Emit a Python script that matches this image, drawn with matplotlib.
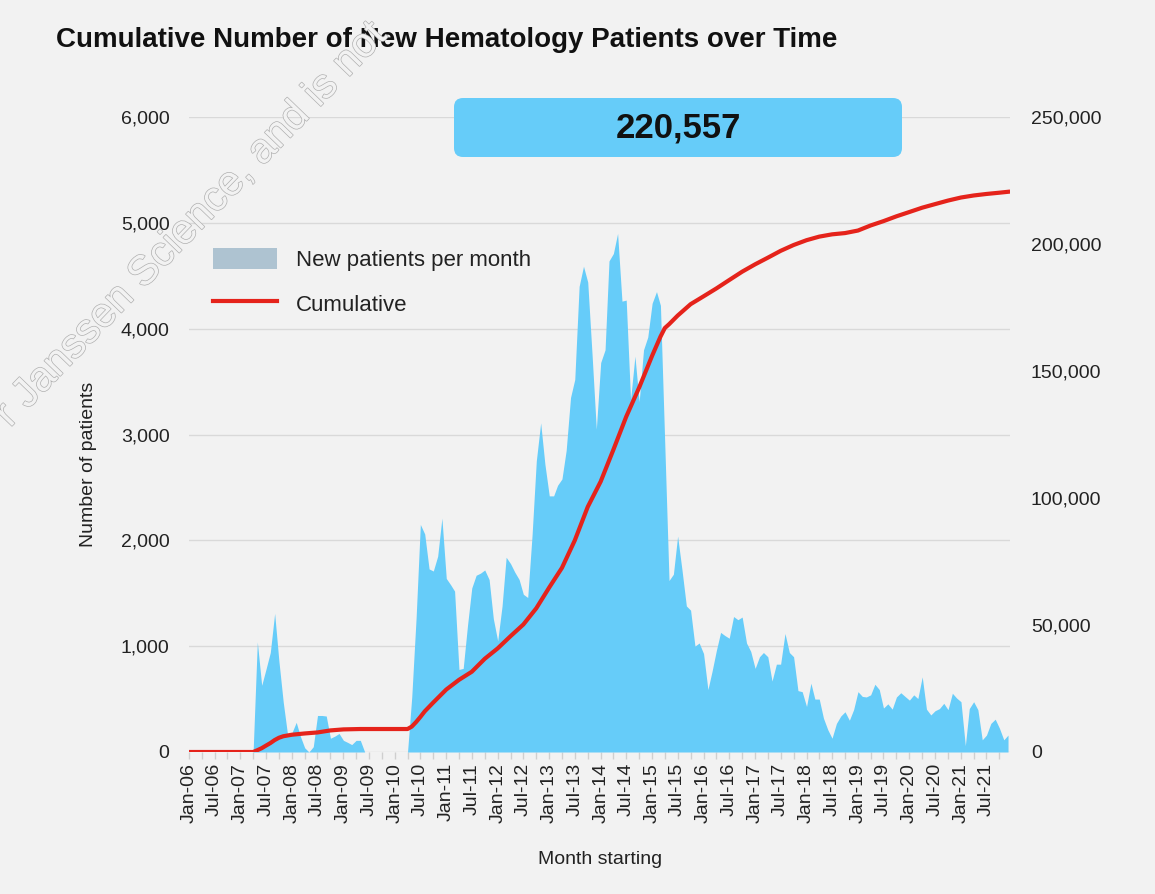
import matplotlib
matplotlib.use('Agg')
import matplotlib.pyplot as plt
import matplotlib.dates as mdates
import matplotlib.patheffects as pe
import matplotlib.transforms as mtransforms
from matplotlib.patches import Patch, FancyBboxPatch
from matplotlib.lines import Line2D
from matplotlib.ticker import FuncFormatter, MultipleLocator
import pandas as pd

# ---------------- data ----------------
months = pd.date_range('2006-01-01', '2021-12-01', freq='MS')

new_2006 = [0, 0, 0, 0, 0, 0, 0, 0, 0, 0, 0, 0]
new_2007 = [0, 0, 0, 0, 1040, 630, 780, 940, 1310, 860, 470, 170]
new_2008 = [180, 280, 150, 40, 0, 50, 345, 345, 340, 130, 150, 175]
new_2009 = [110, 90, 70, 110, 110, 0, 0, 0, 0, 0, 0, 0]
new_2010 = [0, 0, 0, 0, 520, 1270, 2150, 2060, 1730, 1710, 1850, 2210]
new_2011 = [1640, 1580, 1520, 780, 790, 1200, 1550, 1670, 1690, 1720, 1630, 1260]
new_2012 = [1050, 1380, 1840, 1780, 1700, 1630, 1490, 1460, 2050, 2750, 3110, 2720]
new_2013 = [2420, 2420, 2520, 2580, 2850, 3350, 3520, 4400, 4590, 4440, 3750, 3050]
new_2014 = [3680, 3800, 4640, 4710, 4900, 4260, 4270, 3330, 3740, 3310, 3800, 3920]
new_2015 = [4240, 4350, 4220, 2900, 1620, 1680, 2040, 1720, 1380, 1340, 1000, 1030]
new_2016 = [930, 590, 760, 960, 1130, 1100, 1075, 1280, 1250, 1275, 1030, 950]
new_2017 = [790, 900, 940, 900, 670, 830, 830, 1120, 940, 900, 580, 570]
new_2018 = [430, 650, 500, 500, 320, 210, 130, 270, 340, 380, 300, 400]
new_2019 = [570, 525, 520, 540, 640, 590, 415, 455, 405, 520, 560, 525]
new_2020 = [490, 540, 505, 710, 405, 350, 390, 410, 460, 400, 555, 510]
new_2021 = [475, 60, 410, 475, 400, 115, 160, 270, 310, 225, 115, 160]

new_patients = (new_2006 + new_2007 + new_2008 + new_2009 + new_2010 + new_2011 +
                new_2012 + new_2013 + new_2014 + new_2015 + new_2016 + new_2017 +
                new_2018 + new_2019 + new_2020 + new_2021)

cum_dates = ['2006-01', '2007-04', '2007-05', '2007-06', '2007-07', '2007-08', '2007-09',
             '2007-10', '2007-11', '2008-01', '2008-04', '2008-07', '2008-10', '2009-01',
             '2009-05', '2010-04', '2010-05', '2010-06', '2010-07', '2010-08', '2010-10',
             '2011-01', '2011-04', '2011-07', '2011-10', '2012-01', '2012-04', '2012-07',
             '2012-10', '2013-01', '2013-04', '2013-07', '2013-10', '2014-01', '2014-04',
             '2014-07', '2014-10', '2015-01', '2015-03', '2015-04', '2015-05', '2015-07',
             '2015-10', '2016-01', '2016-04', '2016-07', '2016-10', '2017-01', '2017-04',
             '2017-07', '2017-10', '2018-01', '2018-04', '2018-07', '2018-10', '2019-01',
             '2019-04', '2019-07', '2019-10', '2020-01', '2020-04', '2020-07', '2020-10',
             '2021-01', '2021-04', '2021-07', '2021-10', '2021-12']
cum_values = [0, 0, 700, 1500, 2500, 3500, 4700,
              5600, 6200, 6800, 7300, 7700, 8500, 8900,
              9050, 9050, 10000, 11800, 13800, 16000, 19500,
              24600, 28400, 31600, 36700, 40800, 45600, 50200,
              56600, 64800, 72500, 83300, 96500, 106500, 119000,
              132000, 143500, 156000, 163500, 166900, 168400, 171800,
              176300, 179400, 182500, 185800, 189100, 192000, 194600,
              197300, 199600, 201500, 202900, 203800, 204300, 205300,
              207300, 209000, 210900, 212600, 214300, 215700, 217100,
              218300, 219100, 219700, 220200, 220557]

total_label = '220,557'
title = 'Cumulative Number of New Hematology Patients over Time'
legend_labels = ['New patients per month', 'Cumulative']

# ---------------- style ----------------
W, H = 1155, 894
BG = '#F2F2F2'
FILL = '#66CCF9'
RED = '#E5231B'
LEG_PATCH = '#AEC3D1'
FONT = 'Liberation Sans'
plt.rcParams['font.family'] = [FONT, 'DejaVu Sans']

fig = plt.figure(figsize=(W / 100, H / 100), dpi=100, facecolor=BG)

def fx(px):
    return px / W

def fy(py):
    return 1 - py / H

left, right, top, bottom = 189, 1010, 117, 752
ax = fig.add_axes([fx(left), fy(bottom), fx(right - left), (bottom - top) / H])
ax.set_facecolor(BG)
ax2 = ax.twinx()

cum_dt = pd.to_datetime(cum_dates)

ax.fill_between(months, new_patients, 0, color=FILL, lw=0, zorder=2)
ax2.plot(cum_dt, cum_values, color=RED, lw=3.0, solid_joinstyle='round', zorder=3)

ax.set_ylim(0, 6000)
ax2.set_ylim(0, 250000)
ax.set_xlim(pd.Timestamp('2006-01-01'), pd.Timestamp('2021-12-15'))

ax.yaxis.set_major_locator(MultipleLocator(1000))
ax2.yaxis.set_major_locator(MultipleLocator(50000))
fmt = FuncFormatter(lambda v, p: f'{int(v):,}')
ax.yaxis.set_major_formatter(fmt)
ax2.yaxis.set_major_formatter(fmt)

ax.grid(axis='y', color='#D9D9D9', lw=1.0, zorder=0)
ax.set_axisbelow(True)

ax.xaxis.set_major_locator(mdates.MonthLocator(bymonth=[1, 7]))
ax.xaxis.set_major_formatter(mdates.DateFormatter('%b-%y'))
ax.xaxis.set_minor_locator(mdates.MonthLocator(bymonth=[4, 10]))

for a in (ax, ax2):
    for s in a.spines.values():
        s.set_visible(False)

ax.tick_params(axis='y', length=0, pad=14, labelsize=14, labelcolor='#222222')
ax2.tick_params(axis='y', length=0, pad=15, labelsize=14, labelcolor='#222222')
ax.tick_params(axis='x', which='major', length=5, width=1, color='#CFCFCF',
               pad=3, labelsize=14, labelcolor='#222222', labelrotation=90)
ax.tick_params(axis='x', which='minor', length=5, width=1, color='#CFCFCF')

# axis titles
fig.text(fx(88), fy(464), 'Number of patients', rotation=90, ha='center', va='center',
         fontsize=14, color='#222222')
fig.text(fx(600), fy(860), 'Month starting', ha='center', va='center',
         fontsize=14, color='#222222')

# title
fig.text(fx(56), fy(40), title, ha='left', va='center', fontsize=20,
         fontweight='bold', color='#111111')

# total box
box = FancyBboxPatch((454, H - 157), 448, 59,
                     boxstyle='round,pad=0,rounding_size=9',
                     transform=mtransforms.IdentityTransform(),
                     facecolor=FILL, edgecolor='none', zorder=5)
fig.add_artist(box)
fig.text(fx(678), fy(128), total_label, ha='center', va='center', fontsize=25,
         fontweight='bold', color='#111111', zorder=6)

# legend
handles = [Patch(facecolor=LEG_PATCH, edgecolor='none'),
           Line2D([0], [0], color=RED, lw=3.0)]
leg = ax.legend(handles, legend_labels, loc='upper left',
                bbox_to_anchor=(fx(213), fy(248)), bbox_transform=fig.transFigure,
                frameon=False, fontsize=16, handlelength=2.9, handleheight=1.1,
                handletextpad=0.85, labelspacing=0.95, borderpad=0, borderaxespad=0)
for t in leg.get_texts():
    t.set_color('#222222')

# watermark
fig.text(fx(10), fy(428), 'r Janssen Science, and is not', rotation=46,
         rotation_mode='anchor', ha='left', va='baseline', fontsize=30,
         color=BG, zorder=10,
         path_effects=[pe.Stroke(linewidth=1.0, foreground='#B0B0B0'), pe.Normal()])

fig.savefig('out.png', dpi=100, facecolor=BG)
